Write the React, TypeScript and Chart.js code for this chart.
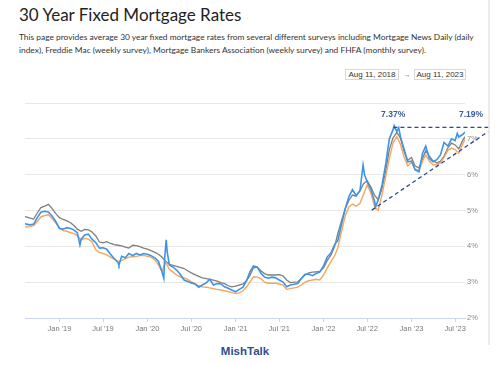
import React, { useEffect, useRef } from 'react';
import { Chart, registerables } from 'chart.js';

Chart.register(...registerables);

// Shared semi-monthly dates for the weekly surveys
const surveyDates = [
  '2018-08-11', '2018-08-16',
  '2018-09-01', '2018-09-16', '2018-10-01', '2018-10-16', '2018-11-01', '2018-11-16', '2018-12-01', '2018-12-16',
  '2019-01-01', '2019-01-16', '2019-02-01', '2019-02-16', '2019-03-01', '2019-03-16', '2019-04-01', '2019-04-16',
  '2019-05-01', '2019-05-16', '2019-06-01', '2019-06-16', '2019-07-01', '2019-07-16', '2019-08-01', '2019-08-16',
  '2019-09-01', '2019-09-16', '2019-10-01', '2019-10-16', '2019-11-01', '2019-11-16', '2019-12-01', '2019-12-16',
  '2020-01-01', '2020-01-16', '2020-02-01', '2020-02-16', '2020-03-01', '2020-03-16', '2020-04-01', '2020-04-16',
  '2020-05-01', '2020-05-16', '2020-06-01', '2020-06-16', '2020-07-01', '2020-07-16', '2020-08-01', '2020-08-16',
  '2020-09-01', '2020-09-16', '2020-10-01', '2020-10-16', '2020-11-01', '2020-11-16', '2020-12-01', '2020-12-16',
  '2021-01-01', '2021-01-16', '2021-02-01', '2021-02-16', '2021-03-01', '2021-03-16', '2021-04-01', '2021-04-16',
  '2021-05-01', '2021-05-16', '2021-06-01', '2021-06-16', '2021-07-01', '2021-07-16', '2021-08-01', '2021-08-16',
  '2021-09-01', '2021-09-16', '2021-10-01', '2021-10-16', '2021-11-01', '2021-11-16', '2021-12-01', '2021-12-16',
  '2022-01-01', '2022-01-16', '2022-02-01', '2022-02-16', '2022-03-01', '2022-03-16', '2022-04-01', '2022-04-16',
  '2022-05-01', '2022-05-16', '2022-06-01', '2022-06-16', '2022-07-01', '2022-07-16', '2022-08-01', '2022-08-16',
  '2022-09-01', '2022-09-16', '2022-10-01', '2022-10-16', '2022-11-01', '2022-11-16', '2022-12-01', '2022-12-16',
  '2023-01-01', '2023-01-16', '2023-02-01', '2023-02-16', '2023-03-01', '2023-03-16', '2023-04-01', '2023-04-16',
  '2023-05-01', '2023-05-16', '2023-06-01', '2023-06-16', '2023-07-01', '2023-07-16',
  '2023-08-01', '2023-08-11',
];

// Mortgage Bankers Association (grey)
const mbaValues = [
  4.83, 4.82,
  4.79, 4.76, 4.93, 5.08, 5.12, 5.17, 5.06, 4.92,
  4.80, 4.75, 4.71, 4.66, 4.59, 4.48, 4.42, 4.47,
  4.46, 4.40, 4.29, 4.12, 4.10, 4.13, 4.08, 4.05,
  4.03, 4.01, 3.98, 3.95, 4.03, 4.02, 3.99, 3.95,
  3.92, 3.88, 3.83, 3.78, 3.70, 3.58, 3.50, 3.47,
  3.44, 3.41, 3.38, 3.32, 3.26, 3.21, 3.16, 3.12,
  3.10, 3.08, 3.06, 3.03, 2.99, 2.96, 2.90, 2.87,
  2.89, 2.92, 2.95, 3.05, 3.18, 3.40, 3.42, 3.32,
  3.24, 3.20, 3.20, 3.20, 3.21, 3.18, 3.06, 2.99,
  3.00, 3.01, 3.10, 3.20, 3.26, 3.28, 3.29, 3.30,
  3.40, 3.60, 3.76, 4.00, 4.35, 4.70, 5.05, 5.28,
  5.43, 5.40, 5.55, 5.75, 5.83, 5.66, 5.42, 5.30,
  5.62, 6.10, 6.70, 7.02, 7.18, 7.02, 6.65, 6.40,
  6.48, 6.24, 6.19, 6.45, 6.67, 6.52, 6.38, 6.33,
  6.37, 6.52, 6.75, 6.88, 6.83, 6.72,
  6.95, 7.06,
];

// Freddie Mac (orange)
const freddieValues = [
  4.55, 4.54,
  4.55, 4.58, 4.70, 4.82, 4.86, 4.88, 4.78, 4.66,
  4.52, 4.44, 4.42, 4.38, 4.36, 4.30, 4.17, 4.22,
  4.20, 4.12, 3.90, 3.83, 3.80, 3.76, 3.70, 3.64,
  3.58, 3.60, 3.66, 3.70, 3.71, 3.72, 3.74, 3.75,
  3.72, 3.70, 3.62, 3.48, 3.30, 3.55, 3.36, 3.28,
  3.20, 3.15, 3.12, 3.08, 3.01, 2.96, 2.90, 2.87,
  2.86, 2.84, 2.82, 2.80, 2.78, 2.76, 2.74, 2.71,
  2.68, 2.70, 2.76, 2.87, 3.00, 3.15, 3.14, 3.10,
  3.00, 2.97, 2.97, 2.97, 2.95, 2.92, 2.80, 2.82,
  2.84, 2.86, 2.92, 3.00, 3.04, 3.06, 3.08, 3.06,
  3.20, 3.39, 3.58, 3.74, 3.95, 4.40, 4.85, 5.10,
  5.18, 5.12, 5.20, 5.45, 5.72, 5.50, 5.10, 5.00,
  5.45, 5.95, 6.45, 6.88, 7.06, 6.85, 6.50, 6.25,
  6.35, 6.15, 6.12, 6.38, 6.55, 6.38, 6.27, 6.29,
  6.33, 6.48, 6.68, 6.74, 6.70, 6.60,
  6.85, 6.98,
];

// Mortgage News Daily (blue)
const mndDates = [
  '2018-08-11', '2018-08-16', '2018-09-01', '2018-09-16', '2018-10-01', '2018-10-16', '2018-11-01', '2018-11-16',
  '2018-12-01', '2018-12-16', '2019-01-01', '2019-01-16', '2019-02-01', '2019-02-16', '2019-03-01', '2019-03-16',
  '2019-03-27', '2019-04-01', '2019-04-16', '2019-05-01', '2019-05-16', '2019-06-01', '2019-06-16', '2019-07-01',
  '2019-07-16', '2019-08-01', '2019-08-16', '2019-09-01', '2019-09-05', '2019-09-16', '2019-10-01', '2019-10-16',
  '2019-11-01', '2019-11-16', '2019-12-01', '2019-12-16', '2020-01-01', '2020-01-16', '2020-02-01', '2020-02-16',
  '2020-03-01', '2020-03-09', '2020-03-13', '2020-03-19', '2020-03-23', '2020-04-01', '2020-04-16', '2020-05-01',
  '2020-05-16', '2020-06-01', '2020-06-16', '2020-07-01', '2020-07-16', '2020-08-01', '2020-08-16', '2020-09-01',
  '2020-09-16', '2020-10-01', '2020-10-16', '2020-11-01', '2020-11-16', '2020-12-01', '2020-12-16', '2021-01-01',
  '2021-01-16', '2021-02-01', '2021-02-16', '2021-03-01', '2021-03-16', '2021-04-01', '2021-04-16', '2021-05-01',
  '2021-05-16', '2021-06-01', '2021-06-16', '2021-07-01', '2021-07-16', '2021-08-01', '2021-08-16', '2021-09-01',
  '2021-09-16', '2021-10-01', '2021-10-16', '2021-11-01', '2021-11-16', '2021-12-01', '2021-12-16', '2022-01-01',
  '2022-01-16', '2022-02-01', '2022-02-16', '2022-03-01', '2022-03-16', '2022-04-01', '2022-04-16', '2022-05-01',
  '2022-05-16', '2022-06-01', '2022-06-14', '2022-06-20', '2022-07-01', '2022-07-16', '2022-08-01', '2022-08-05',
  '2022-08-16', '2022-09-01', '2022-09-16', '2022-10-01', '2022-10-16', '2022-10-21', '2022-11-01', '2022-11-09',
  '2022-11-16', '2022-12-01', '2022-12-16', '2023-01-01', '2023-01-16', '2023-02-01', '2023-02-16', '2023-03-01',
  '2023-03-16', '2023-04-01', '2023-04-16', '2023-05-01', '2023-05-16', '2023-06-01', '2023-06-16', '2023-07-01',
  '2023-07-10', '2023-07-16', '2023-08-01', '2023-08-11',
];
const mndValues = [
  4.64, 4.62, 4.60, 4.62, 4.80, 4.95, 4.98, 4.96,
  4.85, 4.70, 4.50, 4.48, 4.52, 4.50, 4.46, 4.38,
  4.04, 4.20, 4.32, 4.34, 4.20, 4.10, 3.95, 3.96,
  3.92, 3.78, 3.66, 3.55, 3.48, 3.72, 3.68, 3.80,
  3.74, 3.80, 3.76, 3.80, 3.78, 3.74, 3.68, 3.58,
  3.30, 3.11, 3.70, 4.18, 3.85, 3.48, 3.42, 3.34,
  3.22, 3.06, 3.02, 2.98, 2.95, 2.86, 2.92, 2.98,
  3.08, 2.92, 2.96, 2.95, 2.87, 2.83, 2.78, 2.73,
  2.80, 2.86, 3.05, 3.28, 3.45, 3.42, 3.25, 3.14,
  3.11, 3.14, 3.12, 3.06, 3.01, 2.87, 2.92, 2.94,
  2.96, 3.10, 3.22, 3.22, 3.18, 3.24, 3.28, 3.45,
  3.70, 3.82, 4.05, 4.16, 4.60, 5.05, 5.38, 5.58,
  5.42, 5.55, 6.27, 6.00, 5.80, 5.60, 5.25, 5.10,
  5.30, 5.72, 6.30, 7.00, 7.25, 7.37, 7.20, 7.31,
  7.06, 6.72, 6.36, 6.38, 6.13, 6.08, 6.60, 6.80,
  6.45, 6.36, 6.42, 6.55, 6.90, 6.80, 7.00, 6.95,
  7.15, 7.05, 7.12, 7.19,
];

const xRange = ['2018-08-11', '2023-08-11'];
const xTickDates = [
  '2019-01-01', '2019-07-01', '2020-01-01', '2020-07-01', '2021-01-01',
  '2021-07-01', '2022-01-01', '2022-07-01', '2023-01-01', '2023-07-01',
];
const xTickLabels = ["Jan '19", "Jul '19", "Jan '20", "Jul '20", "Jan '21", "Jul '21", "Jan '22", "Jul '22", "Jan '23", "Jul '23"];
const yTickValues = [2, 3, 4, 5, 6, 7, 8];
const yTickLabels = ['2%', '3%', '4%', '5%', '6%', '7%', ''];

// Hand-drawn annotations
const resistanceDates = ['2022-10-18', '2023-11-15'];
const resistanceValues = [7.32, 7.32];
const trendDates = ['2022-07-20', '2023-11-15'];
const trendValues = [5.01, 7.2];
const calloutDates = ['2022-10-21', '2023-08-11'];
const calloutValues = [7.37, 7.19];
const calloutLabels = ['7.37%', '7.19%'];

const toT = (d: string) => Date.parse(d + 'T00:00:00Z');

const annotationPlugin = {
  id: 'mishAnnotations',
  afterDatasetsDraw(chart: any) {
    const { ctx } = chart;
    const x = chart.scales.x;
    const y = chart.scales.y;
    ctx.save();
    ctx.strokeStyle = '#2b4a8b';
    ctx.lineWidth = 1.3;
    ctx.setLineDash([4, 3]);
    const seg = (ds: string[], vs: number[]) => {
      ctx.beginPath();
      ctx.moveTo(x.getPixelForValue(toT(ds[0])), y.getPixelForValue(vs[0]));
      ctx.lineTo(x.getPixelForValue(toT(ds[1])), y.getPixelForValue(vs[1]));
      ctx.stroke();
    };
    seg(resistanceDates, resistanceValues);
    seg(trendDates, trendValues);
    ctx.setLineDash([]);
    ctx.fillStyle = '#3a5a9c';
    ctx.font = 'bold 8.5px "Liberation Sans", Arial, sans-serif';
    ctx.textAlign = 'center';
    ctx.textBaseline = 'middle';
    const labelY = y.getPixelForValue(Math.max(...calloutValues)) - 10.5;
    ctx.fillText(calloutLabels[0], x.getPixelForValue(toT(calloutDates[0])) - 1, labelY);
    ctx.fillText(calloutLabels[1], x.getPixelForValue(toT(calloutDates[1])) + 6, labelY);
    ctx.restore();
  },
};

export default function App() {
  const ref = useRef<HTMLCanvasElement>(null);

  useEffect(() => {
    if (!ref.current) return;
    const tickFont = { family: '"Liberation Sans", Arial, sans-serif', size: 7.5 };
    const chart = new Chart(ref.current, {
      type: 'line',
      data: {
        datasets: [
          {
            label: 'Mortgage News Daily',
            data: mndDates.map((d, i) => ({ x: toT(d), y: mndValues[i] })),
            borderColor: '#3d94e6',
            borderWidth: 1.6,
            pointRadius: 0,
            tension: 0,
            order: 0,
          },
          {
            label: 'Freddie Mac',
            data: surveyDates.map((d, i) => ({ x: toT(d), y: freddieValues[i] })),
            borderColor: '#f6a55e',
            borderWidth: 1.4,
            pointRadius: 0,
            tension: 0,
            order: 1,
          },
          {
            label: 'Mortgage Bankers Association',
            data: surveyDates.map((d, i) => ({ x: toT(d), y: mbaValues[i] })),
            borderColor: '#7f7f7f',
            borderWidth: 1.3,
            pointRadius: 0,
            tension: 0,
            order: 2,
          },
        ],
      },
      options: {
        animation: false,
        responsive: false,
        layout: { padding: { left: 25, top: 13, right: 0, bottom: 0 } },
        plugins: { legend: { display: false }, tooltip: { enabled: false } },
        scales: {
          x: {
            type: 'linear',
            min: toT(xRange[0]),
            max: toT(xRange[1]),
            afterBuildTicks: (s: any) => {
              s.ticks = xTickDates.map((d) => ({ value: toT(d) }));
            },
            afterFit: (s: any) => {
              s.height = 22;
            },
            ticks: {
              autoSkip: false,
              maxRotation: 0,
              padding: 2,
              color: '#7a7a7a',
              font: tickFont,
              callback: (_v: any, i: number) => xTickLabels[i],
            },
            grid: { drawOnChartArea: false, drawTicks: true, tickLength: 4, color: '#ccd6eb' },
            border: { color: '#ccd6eb', width: 1 },
          },
          y: {
            position: 'right',
            min: 2,
            max: 8,
            afterBuildTicks: (s: any) => {
              s.ticks = yTickValues.map((v) => ({ value: v }));
            },
            afterFit: (s: any) => {
              s.width = 25;
            },
            ticks: {
              padding: 2,
              color: '#8a8a8a',
              font: tickFont,
              callback: (_v: any, i: number) => yTickLabels[i],
            },
            grid: { color: '#e8e8e8', drawTicks: false },
            border: { display: false },
          },
        },
      },
      plugins: [annotationPlugin],
    } as any);
    return () => chart.destroy();
  }, []);

  const boxStyle: React.CSSProperties = {
    position: 'absolute',
    top: 69,
    height: 11,
    border: '1px solid #d8d8d8',
    boxSizing: 'border-box',
    font: '8px "Liberation Sans", Arial, sans-serif',
    color: '#333',
    lineHeight: '9px',
    textAlign: 'center',
  };

  return (
    <div style={{ position: 'absolute', left: 0, top: 0, width: 500, height: 365, background: '#fff', overflow: 'hidden' }}>
      <div style={{ position: 'absolute', left: 488, top: 0, width: 2, height: 345, background: '#ececec' }} />
      <div
        style={{
          position: 'absolute',
          left: 19,
          top: 6,
          font: '17px Lato, "Open Sans", sans-serif',
          lineHeight: '17px',
          color: '#222',
          whiteSpace: 'nowrap',
        }}
      >
        30 Year Fixed Mortgage Rates
      </div>
      <div
        style={{
          position: 'absolute',
          left: 19,
          top: 30.5,
          font: '8.4px Lato, "Open Sans", sans-serif',
          lineHeight: '13.4px',
          color: '#333',
          whiteSpace: 'nowrap',
        }}
      >
        This page provides average 30 year fixed mortgage rates from several different surveys including Mortgage News Daily (daily
        <br />
        index), Freddie Mac (weekly survey), Mortgage Bankers Association (weekly survey) and FHFA (monthly survey).
      </div>
      <div style={{ ...boxStyle, left: 345, width: 54 }}>Aug 11, 2018</div>
      <div
        style={{
          position: 'absolute',
          left: 403,
          top: 69,
          width: 8,
          textAlign: 'center',
          font: '7px "Liberation Sans", Arial, sans-serif',
          lineHeight: '11px',
          color: '#555',
        }}
      >
        →
      </div>
      <div style={{ ...boxStyle, left: 414, width: 52 }}>Aug 11, 2023</div>
      <canvas
        ref={ref}
        width={490}
        height={250}
        style={{ position: 'absolute', left: 0, top: 90, width: 490, height: 250 }}
      />
      <div
        style={{
          position: 'absolute',
          left: 0,
          width: 490,
          top: 345,
          textAlign: 'center',
          font: 'bold 11.5px "Liberation Sans", Arial, sans-serif',
          lineHeight: '12px',
          color: '#2e4f8f',
        }}
      >
        MishTalk
      </div>
    </div>
  );
}
